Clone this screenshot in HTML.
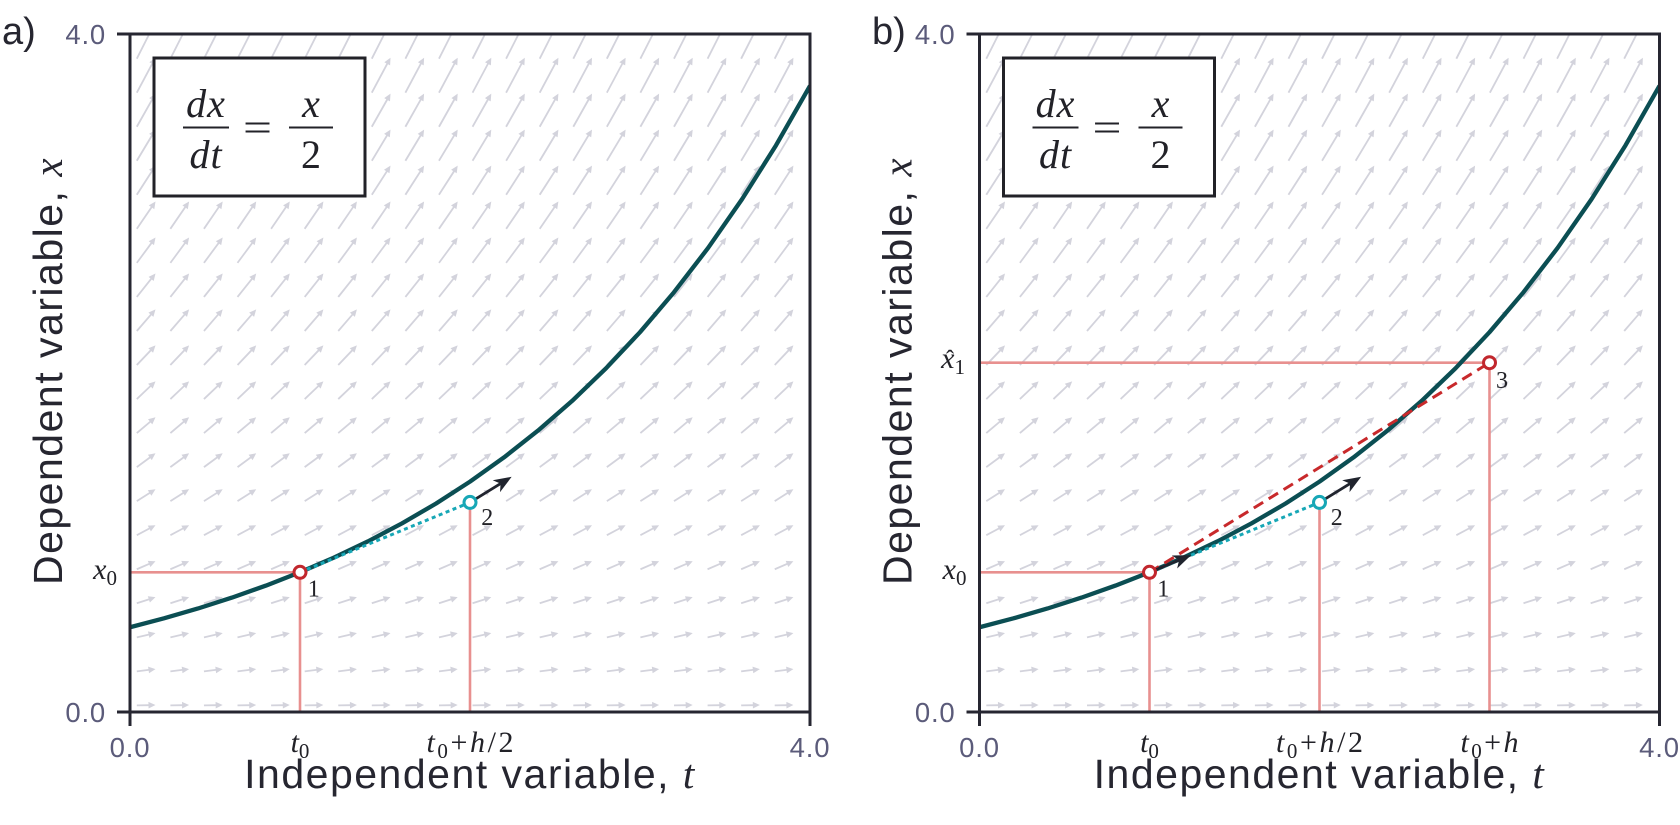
<!DOCTYPE html>
<html>
<head>
<meta charset="utf-8">
<style>
  html,body{margin:0;padding:0;background:#ffffff;}
  svg{display:block;}
  .sans{font-family:"Liberation Sans",sans-serif;}
  .serif{font-family:"Liberation Serif",serif;}
  .tick{font-family:"Liberation Sans",sans-serif;font-size:27.5px;fill:#5b5b7a;letter-spacing:0.8px;}
  .lab{font-family:"Liberation Sans",sans-serif;font-size:41px;fill:#262630;letter-spacing:1.5px;}
  .spec{font-family:"Liberation Serif",serif;font-size:30px;fill:#222228;}
  .eq{font-family:"Liberation Serif",serif;font-size:40px;fill:#222228;font-style:italic;}
  .num{font-family:"Liberation Serif",serif;font-size:24px;fill:#222228;}
</style>
</head>
<body>
<svg width="1680" height="825" viewBox="0 0 1680 825">
  <defs>
    <clipPath id="ca"><rect x="130" y="34" width="680" height="678"/></clipPath>
    <clipPath id="cb"><rect x="979.5" y="34" width="680" height="678"/></clipPath>
    <marker id="ah" viewBox="0 0 18 14" markerWidth="18" markerHeight="14" refX="5" refY="7" orient="auto" markerUnits="userSpaceOnUse">
      <path d="M0,0 L18,7 L0,14 L5,7 Z" fill="#20242e"/>
    </marker>
  </defs>
  <rect x="0" y="0" width="1680" height="825" fill="#ffffff"/>

  <g clip-path="url(#ca)"><path id="qa" fill="#d3d3dc" d=""/></g>
  <g clip-path="url(#cb)"><path id="qb" fill="#d3d3dc" d=""/></g>

  <!-- ================= PANEL A ================= -->
  <g clip-path="url(#ca)">
    <g stroke="#e8908f" stroke-width="2.6" fill="none">
      <line x1="130" y1="572.3" x2="300" y2="572.3"/>
      <line x1="300" y1="572.3" x2="300" y2="712"/>
      <line x1="470" y1="502.4" x2="470" y2="712"/>
    </g>
    <polyline fill="none" stroke="#0b4e53" stroke-width="4.3" stroke-linejoin="round"
      points="130,627.25 164,618.34 198,608.49 232,597.60 266,585.57 300,572.27 334,557.58 368,541.34 402,523.39 436,503.55 470,481.63 504,457.40 538,430.62 572,401.03 606,368.32 640,332.18 674,292.23 708,248.08 742,199.29 776,145.37 810,85.78"/>
    <line x1="300" y1="572.3" x2="470" y2="502.4" stroke="#17a7b6" stroke-width="3" stroke-dasharray="4,3.5"/>
    <line x1="470" y1="502.4" x2="500.6" y2="483.6" stroke="#20242e" stroke-width="2.8" marker-end="url(#ah)"/>
    <circle cx="300" cy="572.3" r="6" fill="#ffffff" stroke="#c1272d" stroke-width="3"/>
    <circle cx="470" cy="502.4" r="6" fill="#ffffff" stroke="#17a7b6" stroke-width="3"/>
  </g>
  <text class="num" x="313.7" y="596.5" text-anchor="middle">1</text>
  <text class="num" x="487.2" y="525" text-anchor="middle">2</text>

  <rect x="130" y="34" width="680" height="678" fill="none" stroke="#262631" stroke-width="3"/>
  <g stroke="#262631" stroke-width="3">
    <line x1="117" y1="34" x2="130" y2="34"/>
    <line x1="117" y1="712" x2="130" y2="712"/>
    <line x1="130" y1="712" x2="130" y2="726"/>
    <line x1="810" y1="712" x2="810" y2="726"/>
  </g>

  <rect x="154" y="58" width="211" height="138" fill="#ffffff" stroke="#222228" stroke-width="3"/>
  <text class="eq" x="206" y="117" text-anchor="middle" letter-spacing="1">dx</text>
  <line x1="183" y1="127.5" x2="229" y2="127.5" stroke="#222228" stroke-width="2"/>
  <text class="eq" x="206" y="168" text-anchor="middle" letter-spacing="1">dt</text>
  <text class="eq" x="257.5" y="141" text-anchor="middle" style="font-style:normal" textLength="29" lengthAdjust="spacingAndGlyphs">=</text>
  <text class="eq" x="311" y="117" text-anchor="middle">x</text>
  <line x1="289" y1="127.5" x2="333" y2="127.5" stroke="#222228" stroke-width="2"/>
  <text class="eq" x="311" y="168" text-anchor="middle" style="font-style:normal">2</text>

  <text class="tick" x="106" y="44" text-anchor="end">4.0</text>
  <text class="tick" x="106" y="722" text-anchor="end">0.0</text>
  <text class="tick" x="130" y="757" text-anchor="middle">0.0</text>
  <text class="tick" x="810" y="757" text-anchor="middle">4.0</text>

  <text class="spec" x="117" y="579" text-anchor="end"><tspan font-style="italic">x</tspan><tspan font-size="21" dy="6">0</tspan></text>
  <text class="spec" x="300" y="752" text-anchor="middle"><tspan font-style="italic">t</tspan><tspan font-size="21" dy="6">0</tspan></text>
  <text class="spec" x="470" y="752" text-anchor="middle" textLength="87"><tspan font-style="italic">t</tspan><tspan font-size="21" dy="6">0</tspan><tspan dy="-6">+</tspan><tspan font-style="italic">h</tspan><tspan>/2</tspan></text>

  <text class="lab" x="470" y="788" text-anchor="middle">Independent variable, <tspan class="serif" font-style="italic">t</tspan></text>
  <text class="lab" transform="translate(62,371) rotate(-90)" text-anchor="middle">Dependent variable, <tspan class="serif" font-style="italic">x</tspan></text>
  <text class="sans" x="2" y="44" font-size="38" fill="#262630">a)</text>

  <!-- ================= PANEL B ================= -->
  <g clip-path="url(#cb)">
    <g stroke="#e8908f" stroke-width="2.6" fill="none">
      <line x1="979.5" y1="572.3" x2="1149.5" y2="572.3"/>
      <line x1="1149.5" y1="572.3" x2="1149.5" y2="712"/>
      <line x1="1319.5" y1="502.4" x2="1319.5" y2="712"/>
      <line x1="979.5" y1="362.7" x2="1489.5" y2="362.7"/>
      <line x1="1489.5" y1="362.7" x2="1489.5" y2="712"/>
    </g>
    <polyline fill="none" stroke="#0b4e53" stroke-width="4.3" stroke-linejoin="round"
      points="979.5,627.25 1013.5,618.34 1047.5,608.49 1081.5,597.60 1115.5,585.57 1149.5,572.27 1183.5,557.58 1217.5,541.34 1251.5,523.39 1285.5,503.55 1319.5,481.63 1353.5,457.40 1387.5,430.62 1421.5,401.03 1455.5,368.32 1489.5,332.18 1523.5,292.23 1557.5,248.08 1591.5,199.29 1625.5,145.37 1659.5,85.78"/>
    <line x1="1149.5" y1="572.3" x2="1319.5" y2="502.4" stroke="#17a7b6" stroke-width="3" stroke-dasharray="4,3.5"/>
    <line x1="1149.5" y1="572.3" x2="1489.5" y2="362.7" stroke="#c8292b" stroke-width="3" stroke-dasharray="11,6.5"/>
    <line x1="1149.5" y1="572.3" x2="1179.1" y2="560.1" stroke="#20242e" stroke-width="2.8" marker-end="url(#ah)"/>
    <line x1="1319.5" y1="502.4" x2="1350.1" y2="483.6" stroke="#20242e" stroke-width="2.8" marker-end="url(#ah)"/>
    <circle cx="1149.5" cy="572.3" r="6" fill="#ffffff" stroke="#c1272d" stroke-width="3"/>
    <circle cx="1319.5" cy="502.4" r="6" fill="#ffffff" stroke="#17a7b6" stroke-width="3"/>
    <circle cx="1489.5" cy="362.7" r="6" fill="#ffffff" stroke="#c1272d" stroke-width="3"/>
  </g>
  <text class="num" x="1163.2" y="596.5" text-anchor="middle">1</text>
  <text class="num" x="1336.7" y="525" text-anchor="middle">2</text>
  <text class="num" x="1502" y="388" text-anchor="middle">3</text>

  <rect x="979.5" y="34" width="680" height="678" fill="none" stroke="#262631" stroke-width="3"/>
  <g stroke="#262631" stroke-width="3">
    <line x1="966.5" y1="34" x2="979.5" y2="34"/>
    <line x1="966.5" y1="712" x2="979.5" y2="712"/>
    <line x1="979.5" y1="712" x2="979.5" y2="726"/>
    <line x1="1659.5" y1="712" x2="1659.5" y2="726"/>
  </g>

  <rect x="1003.5" y="58" width="211" height="138" fill="#ffffff" stroke="#222228" stroke-width="3"/>
  <text class="eq" x="1055.5" y="117" text-anchor="middle" letter-spacing="1">dx</text>
  <line x1="1032.5" y1="127.5" x2="1078.5" y2="127.5" stroke="#222228" stroke-width="2"/>
  <text class="eq" x="1055.5" y="168" text-anchor="middle" letter-spacing="1">dt</text>
  <text class="eq" x="1107" y="141" text-anchor="middle" style="font-style:normal" textLength="29" lengthAdjust="spacingAndGlyphs">=</text>
  <text class="eq" x="1160.5" y="117" text-anchor="middle">x</text>
  <line x1="1138.5" y1="127.5" x2="1182.5" y2="127.5" stroke="#222228" stroke-width="2"/>
  <text class="eq" x="1160.5" y="168" text-anchor="middle" style="font-style:normal">2</text>

  <text class="tick" x="955.5" y="44" text-anchor="end">4.0</text>
  <text class="tick" x="955.5" y="722" text-anchor="end">0.0</text>
  <text class="tick" x="979.5" y="757" text-anchor="middle">0.0</text>
  <text class="tick" x="1659.5" y="757" text-anchor="middle">4.0</text>

  <text class="spec" x="966.5" y="579" text-anchor="end"><tspan font-style="italic">x</tspan><tspan font-size="21" dy="6">0</tspan></text>
  <text class="spec" x="965" y="368" text-anchor="end"><tspan font-style="italic">x</tspan><tspan font-size="21" dy="6">1</tspan></text>
  <text class="serif" x="950" y="367" font-size="24" fill="#222228" text-anchor="middle">ˆ</text>
  <text class="spec" x="1149.5" y="752" text-anchor="middle"><tspan font-style="italic">t</tspan><tspan font-size="21" dy="6">0</tspan></text>
  <text class="spec" x="1319.5" y="752" text-anchor="middle" textLength="87"><tspan font-style="italic">t</tspan><tspan font-size="21" dy="6">0</tspan><tspan dy="-6">+</tspan><tspan font-style="italic">h</tspan><tspan>/2</tspan></text>
  <text class="spec" x="1489.5" y="752" text-anchor="middle" textLength="58"><tspan font-style="italic">t</tspan><tspan font-size="21" dy="6">0</tspan><tspan dy="-6">+</tspan><tspan font-style="italic">h</tspan></text>

  <text class="lab" x="1319.5" y="788" text-anchor="middle">Independent variable, <tspan class="serif" font-style="italic">t</tspan></text>
  <text class="lab" transform="translate(911.5,371) rotate(-90)" text-anchor="middle">Dependent variable, <tspan class="serif" font-style="italic">x</tspan></text>
  <text class="sans" x="872" y="44" font-size="38" fill="#262630">b)</text>
</svg>
<script>
(function(){
  function build(id, X0){
    var d = "";
    for (var i = 0; i < 20; i++) {
      for (var j = 0; j < 20; j++) {
        var tm = 0.095 + 0.1975 * i;
        var xm = 0.04 + 0.2065 * j;
        var cx = X0 + 170 * tm, cy = 712 - 169.5 * xm;
        var vx = 18.7, vy = -0.055 * xm * 169.5;
        var L = Math.sqrt(vx*vx + vy*vy);
        var ux = vx / L, uy = vy / L, nx = -uy, ny = ux;
        var tx = cx - vx / 2, ty = cy - vy / 2;
        var hl = 7, w = 0.9, hw = 3.3;
        var bx = tx + ux * (L - hl), by = ty + uy * (L - hl);
        var px = tx + vx, py = ty + vy;
        function p(x, y){ return x.toFixed(1) + "," + y.toFixed(1); }
        d += "M" + p(tx + nx*w, ty + ny*w) +
             "L" + p(bx + nx*w, by + ny*w) +
             "L" + p(bx + nx*hw, by + ny*hw) +
             "L" + p(px, py) +
             "L" + p(bx - nx*hw, by - ny*hw) +
             "L" + p(bx - nx*w, by - ny*w) +
             "L" + p(tx - nx*w, ty - ny*w) + "Z";
      }
    }
    document.getElementById(id).setAttribute("d", d);
  }
  build("qa", 130);
  build("qb", 979.5);
})();
</script>
</body>
</html>
